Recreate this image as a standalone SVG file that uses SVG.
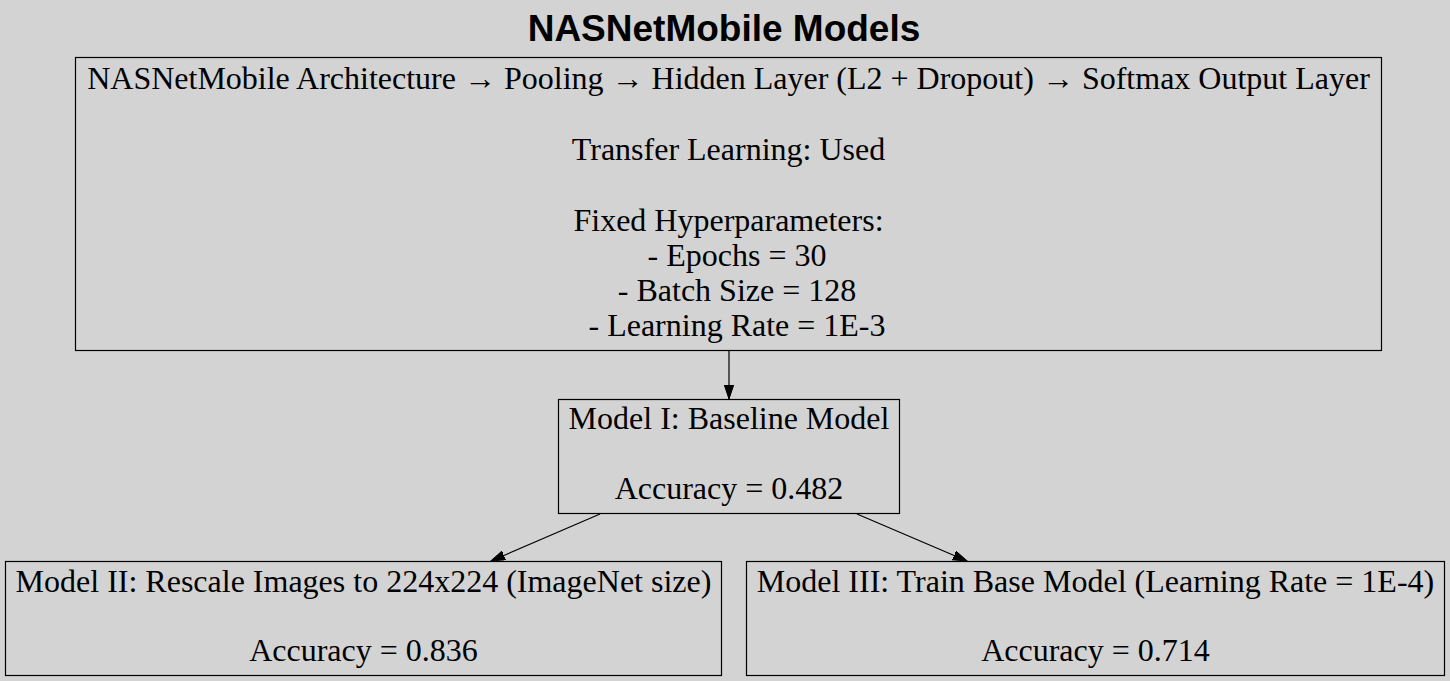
<svg xmlns="http://www.w3.org/2000/svg" width="1450" height="681" viewBox="0 0 1450 681">
<defs>
<style>
.box{fill:none;stroke:#000;stroke-width:1.2}
.t{font-family:"Liberation Serif","Times New Roman",serif;font-size:32px;fill:#000;text-anchor:middle}
.title{font-family:"Liberation Sans",Arial,sans-serif;font-size:37px;font-weight:bold;fill:#000;text-anchor:middle}
.edge{fill:none;stroke:#000;stroke-width:1.2}
</style>
<marker id="arr" markerUnits="userSpaceOnUse" markerWidth="15" markerHeight="10" refX="14" refY="4.7" orient="auto">
<path d="M0,0 L14,4.7 L0,9.4 z" fill="#000" stroke="#000" stroke-width="1"/>
</marker>
</defs>
<rect width="1450" height="681" fill="#d3d3d3"/>
<text class="title" x="724" y="40.5">NASNetMobile Models</text>
<g id="connectors">
<line class="edge" x1="729" y1="350.5" x2="729" y2="399" marker-end="url(#arr)"/>
<line class="edge" x1="600" y1="514" x2="491" y2="561" marker-end="url(#arr)"/>
<line class="edge" x1="857" y1="514" x2="967" y2="561" marker-end="url(#arr)"/>
</g>
<g id="arch">
<rect class="box" x="75.5" y="57.5" width="1306" height="293"/>
<text class="t" x="728.5" y="88.5">NASNetMobile Architecture → Pooling → Hidden Layer (L2 + Dropout) → Softmax Output Layer</text>
<text class="t" x="728.5" y="159.5">Transfer Learning: Used</text>
<text class="t" x="728.5" y="230.5">Fixed Hyperparameters:</text>
<text class="t" x="737" y="266">- Epochs = 30</text>
<text class="t" x="737" y="301">- Batch Size = 128</text>
<text class="t" x="737" y="335.5">- Learning Rate = 1E-3</text>
</g>
<g id="model1">
<rect class="box" x="558.5" y="399.5" width="341" height="114"/>
<text class="t" x="729" y="429.3">Model I: Baseline Model</text>
<text class="t" x="729" y="498.7">Accuracy = 0.482</text>
</g>
<g id="model2">
<rect class="box" x="5.5" y="561.5" width="716" height="114"/>
<text class="t" x="363.5" y="591.7">Model II: Rescale Images to 224x224 (ImageNet size)</text>
<text class="t" x="363.5" y="661">Accuracy = 0.836</text>
</g>
<g id="model3">
<rect class="box" x="746.5" y="561.5" width="698" height="114"/>
<text class="t" x="1095.5" y="591.7">Model III: Train Base Model (Learning Rate = 1E-4)</text>
<text class="t" x="1095.5" y="661">Accuracy = 0.714</text>
</g>
</svg>
